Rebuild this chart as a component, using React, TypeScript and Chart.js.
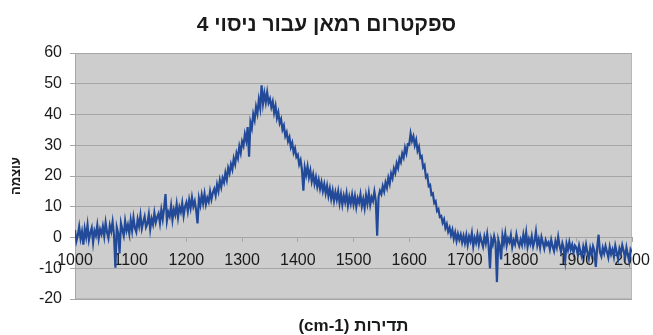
import { useEffect, useRef } from "react";
import { Chart, registerables } from "chart.js";

Chart.register(...registerables);

const TITLE = "ספקטרום רמאן עבור ניסוי 4";
const Y_TITLE = "עוצמה";
const X_TITLE = "(cm-1) תדירות";

// Raman shift sampling (cm-1)
const SHIFT_START = 1000;
const SHIFT_STEP = 2.5;
const X_MIN = 1000;
const X_MAX = 2000;
const X_TICK_STEP = 100;
const Y_MIN = -20;
const Y_MAX = 60;
const Y_TICK_STEP = 10;

// Intensity, 1000–1247.5 cm-1
const baseline = [
  2.4, -1.2, 0.6, 3.5, -0.4, 1.9, -2.3, 2.8, 0.2, 4.0, -0.8, 1.5, 3.1, -1.6, 2.2, 0.7, 3.9, -0.3, 2.6, 1.1,
  3.6, 0.4, 4.8, 1.7, -0.2, 3.9, 2.0, 5.1, 0.9, -9.8, 3.3, 1.4, -5.2, 4.6, 2.5, 0.6, 5.3, 2.2, 4.1, 1.3,
  5.6, 2.3, 6.4, 3.1, 1.8, 5.9, 3.7, 7.2, 2.9, 5.0, 6.8, 3.4, 4.6, 7.5, 2.7, 6.1, 4.3, 8.0, 4.9, 6.6,
  7.8, 4.7, 8.9, 6.0, 9.6, 14.1, 5.5, 8.2, 6.9, 10.3, 5.8, 9.1, 7.4, 10.8, 6.6, 9.9, 8.3, 11.2, 7.1, 10.0,
  11.4, 8.5, 12.2, 9.6, 13.0, 10.1, 11.8, 8.9, 4.6, 12.7, 10.5, 13.8, 11.1, 14.2, 10.8, 12.9, 11.6, 15.0, 12.4, 14.6,
];
// D band, 1250–1447.5 cm-1
const dBand = [
  15.8, 13.7, 17.2, 15.1, 18.6, 16.4, 19.3, 17.9, 21.0, 18.8, 22.6, 20.9, 23.8, 22.1, 25.7, 23.9, 27.4, 25.8, 29.6, 27.5,
  31.2, 29.8, 33.6, 31.5, 35.9, 26.3, 37.4, 35.6, 40.1, 38.2, 42.5, 40.3, 44.8, 42.1, 49.5, 43.6, 46.9, 44.0, 47.2, 43.8,
  45.1, 42.4, 44.2, 40.6, 42.8, 38.9, 40.7, 37.2, 38.5, 35.1, 36.4, 33.0, 34.2, 31.3, 32.6, 29.4, 30.8, 27.6, 29.0, 26.2,
  26.9, 23.8, 25.2, 22.0, 15.2, 22.7, 20.4, 23.1, 19.6, 21.8, 18.3, 20.5, 17.4, 19.6, 16.5, 18.7, 15.8, 18.0, 15.1, 17.3,
];
// Valley, 1450–1547.5 cm-1
const valley = [
  14.4, 16.8, 13.5, 15.9, 12.6, 15.2, 11.9, 14.7, 12.3, 15.0, 11.2, 14.1, 10.7, 13.6, 11.5, 14.3, 10.4, 13.2, 11.0, 13.9,
  10.8, 13.4, 9.9, 12.8, 11.3, 14.0, 10.2, 12.5, 9.6, 13.7, 11.0, 14.4, 10.6, 13.1, 11.8, 14.9, 12.0, 0.6, 13.3, 15.2,
];
// G band, 1550–1697.5 cm-1
const gBand = [
  14.1, 16.7, 15.0, 17.9, 16.2, 19.4, 17.5, 20.8, 19.3, 22.4, 21.0, 24.1, 22.6, 25.7, 24.5, 27.3, 26.0, 29.2, 27.4, 30.3,
  30.1, 33.8, 31.4, 32.9, 30.0, 31.7, 28.2, 29.5, 25.9, 26.4, 22.8, 23.5, 19.6, 20.2, 16.7, 17.1, 13.9, 14.3, 11.2, 11.8,
  8.6, 9.2, 6.7, 7.0, 4.8, 5.9, 3.1, 4.4, 1.9, 3.2, 0.8, 2.5, -0.4, 1.6, -1.1, 1.2, -0.7, 0.9, -1.6, 0.5,
];
// Tail, 1700–2000 cm-1
const tail = [
  -1.8, 0.7, -2.4, 0.3, -1.2, 1.4, -2.9, -0.1, -1.7, 0.9, -2.2, 0.5, -1.4, -3.0, 0.2, -1.9, 1.1, -2.5, -10.1, -0.6,
  -2.3, 0.4, -1.6, -14.5, -0.8, -2.7, -7.1, 0.6, -1.9, 1.3, -2.6, -0.3, -1.5, 0.8, -3.1, -0.9, -2.2, 1.0, -1.4, -2.8,
  -0.7, -2.4, 0.9, -1.8, 1.6, -3.0, -0.5, -2.1, 0.4, -2.9, -1.2, 1.9, -2.5, -0.6, -3.3, 0.1, -1.7, -3.6, -0.9, -2.4,
  -1.6, -3.8, -0.8, -2.9, -4.4, -1.3, -3.2, 0.2, -2.7, -4.6, -1.9, -3.5, -7.4, -2.1, -4.0, -1.5, -3.9, -2.4, -5.0, -2.6,
  -3.2, -5.4, -2.6, -4.7, -6.3, -3.0, -5.1, -2.3, -4.9, -6.8, -3.5, -5.6, -2.9, -4.4, -9.6, -3.3, 0.9, -4.8, -6.1, -3.4,
  -5.2, -2.8, -4.6, -6.5, -3.1, -5.4, -3.9, -6.2, -2.7, -4.8, -6.9, -3.6, -5.1, -2.5, -4.4, -6.6, -3.3, -5.7, -7.8, -3.9,
  -4.8,
];

const intensity = [...baseline, ...dBand, ...valley, ...gBand, ...tail];

const FONT = "'Liberation Sans', Arial, sans-serif";
const PLOT_BG = "#cdcdcd";
const GRID = "#a6a6a6";
const LINE = "#224a98";
const TEXT = "#1a1a1a";

// Grey plot area with a thin frame
const plotBackground = {
  id: "plotBackground",
  beforeDraw(chart: any) {
    const { ctx, chartArea } = chart;
    if (!chartArea) return;
    ctx.save();
    ctx.fillStyle = PLOT_BG;
    ctx.fillRect(chartArea.left, chartArea.top, chartArea.right - chartArea.left, chartArea.bottom - chartArea.top);
    ctx.strokeStyle = "#b8b8b8";
    ctx.lineWidth = 1;
    ctx.strokeRect(chartArea.left + 0.5, chartArea.top + 0.5, chartArea.right - chartArea.left - 1, chartArea.bottom - chartArea.top - 1);
    ctx.restore();
  },
};

export default function App() {
  const canvasRef = useRef<HTMLCanvasElement | null>(null);

  useEffect(() => {
    if (!canvasRef.current) return;
    const points = intensity.map((y, i) => ({ x: SHIFT_START + i * SHIFT_STEP, y }));
    const chart = new Chart(canvasRef.current, {
      type: "line",
      data: {
        datasets: [
          {
            data: points,
            xAxisID: "x",
            yAxisID: "y",
            borderColor: LINE,
            borderWidth: 2.2,
            pointRadius: 0,
            tension: 0,
            fill: false,
          },
        ],
      },
      options: {
        animation: false,
        responsive: false,
        maintainAspectRatio: false,
        parsing: false as any,
        normalized: true,
        layout: { padding: 0 },
        plugins: {
          legend: { display: false },
          tooltip: { enabled: false },
          title: {
            display: true,
            text: TITLE,
            color: TEXT,
            font: { family: FONT, size: 21, weight: "bold" },
            padding: { top: 13, bottom: 14.8 },
          },
        },
        scales: {
          y: {
            type: "linear",
            position: "left",
            min: Y_MIN,
            max: Y_MAX,
            ticks: {
              stepSize: Y_TICK_STEP,
              color: TEXT,
              font: { family: FONT, size: 16 },
              padding: 8,
            },
            grid: { color: GRID, tickColor: GRID, tickLength: 5, lineWidth: 1 },
            border: { display: true, color: GRID },
            title: {
              display: true,
              text: Y_TITLE,
              color: TEXT,
              font: { family: FONT, size: 13, weight: "bold" },
              padding: { top: 9, bottom: 0 },
            },
            afterFit(scale: any) {
              scale.width = 75;
            },
          },
          x: {
            type: "linear",
            position: { y: 0 } as any,
            min: X_MIN,
            max: X_MAX,
            ticks: {
              stepSize: X_TICK_STEP,
              color: TEXT,
              font: { family: FONT, size: 16 },
              padding: 9,
              maxRotation: 0,
              autoSkip: false,
              callback: (v: any) => String(v),
            },
            grid: { drawOnChartArea: false, drawTicks: true, tickLength: 4, tickColor: GRID },
            border: { display: true, color: GRID },
            afterFit(scale: any) {
              // keep a fixed gap between the plot area and the right edge
              scale.paddingLeft = 0;
              scale.paddingRight = 21;
            },
          },
          xTitle: {
            type: "linear",
            position: "bottom",
            min: X_MIN,
            max: X_MAX,
            ticks: { display: false },
            grid: { display: false, drawTicks: false },
            border: { display: false },
            title: {
              display: true,
              text: X_TITLE,
              color: TEXT,
              font: { family: FONT, size: 17, weight: "bold", lineHeight: 1 },
              padding: { top: 19, bottom: 0 },
            },
          },
        },
      },
      plugins: [plotBackground],
    });
    return () => chart.destroy();
  }, []);

  return (
    <div style={{ position: "fixed", left: 0, top: 0, width: 653, height: 335, background: "#ffffff" }}>
      <canvas ref={canvasRef} width={653} height={335} style={{ width: 653, height: 335, display: "block" }} />
    </div>
  );
}
